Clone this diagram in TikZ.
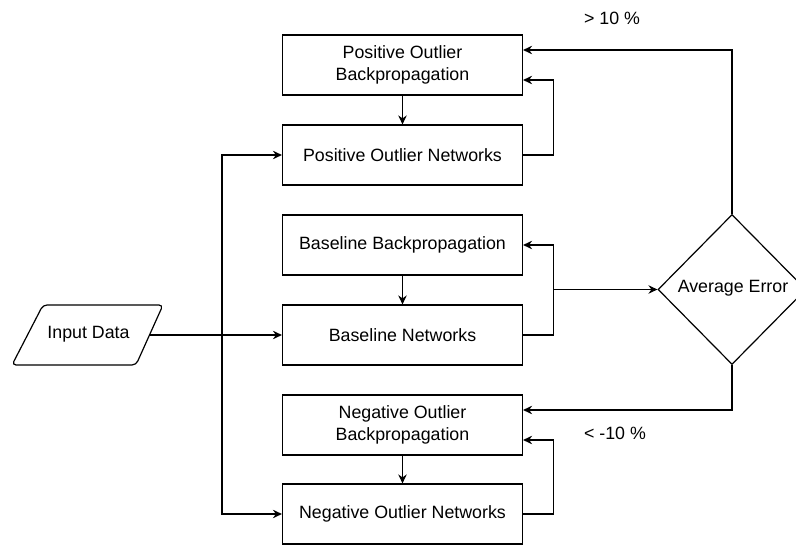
\documentclass[tikz,border=0pt]{standalone}
\usepackage{fontspec}
\setmainfont{Liberation Sans}
\usetikzlibrary{shapes.geometric,arrows.meta}
\begin{document}
\begin{tikzpicture}[x=1pt,y=-1pt,
  font=\fontsize{17.8}{21.5}\selectfont,
  line width=1.2pt,
  boxnode/.style={draw, rectangle, minimum width=240pt, minimum height=60pt, inner sep=2pt, align=center},
  arr/.style={-{Stealth[length=9pt,width=8.5pt,inset=3pt]}}
]
\useasboundingbox (0,0) rectangle (796,545);
% boxes
\node[boxnode] (pb) at (402.5,65) {Positive Outlier\\Backpropagation};
\node[boxnode] (pn) at (402.5,155) {Positive Outlier Networks};
\node[boxnode] (bb) at (402.5,245) {Baseline Backpropagation};
\node[boxnode] (bn) at (402.5,335) {Baseline Networks};
\node[boxnode] (nb) at (402.5,425) {Negative Outlier\\Backpropagation};
\node[boxnode] (nn) at (402.5,514) {Negative Outlier Networks};
% decision
\node[draw, diamond, minimum width=148pt, minimum height=150pt, inner sep=0pt] (d) at (732,289.5) {};
\node (dt) at (733,288) {Average Error};
% input parallelogram
\draw[rounded corners=4pt] (43,305) -- (163,305) -- (136,365) -- (12,365) -- cycle;
\node (in) at (88.5,334) {Input Data};
\coordinate (inR) at (149.5,335);
\coordinate (bus) at (222,335);
% connectors
\draw[arr] (inR) -- (bn.west);
\draw[arr] (bus) |- (pn.west);
\draw[arr] (bus) |- (nn.west);
\draw[arr] (pb) -- (pn);
\draw[arr] (bb) -- (bn);
\draw[arr] (nb) -- (nn);
\draw[arr] (pn.east) -- ++(30,0) |- ([yshift=-15pt]pb.east);
\draw[arr] (bn.east) -- ++(30,0) coordinate (j) |- (bb.east);
\draw[arr] (nn.east) -- ++(30,0) |- ([yshift=-15pt]nb.east);
\draw[arr] (j |- d.west) -- (d.west);
\draw[arr] (d.north) |- ([yshift=15pt]pb.east);
\draw[arr] (d.south) |- ([yshift=15pt]nb.east);
% labels
\node (gt) at (612,18) {> 10 \%};
\node (lt) at (615,433) {< -10 \%};
\end{tikzpicture}
\end{document}
